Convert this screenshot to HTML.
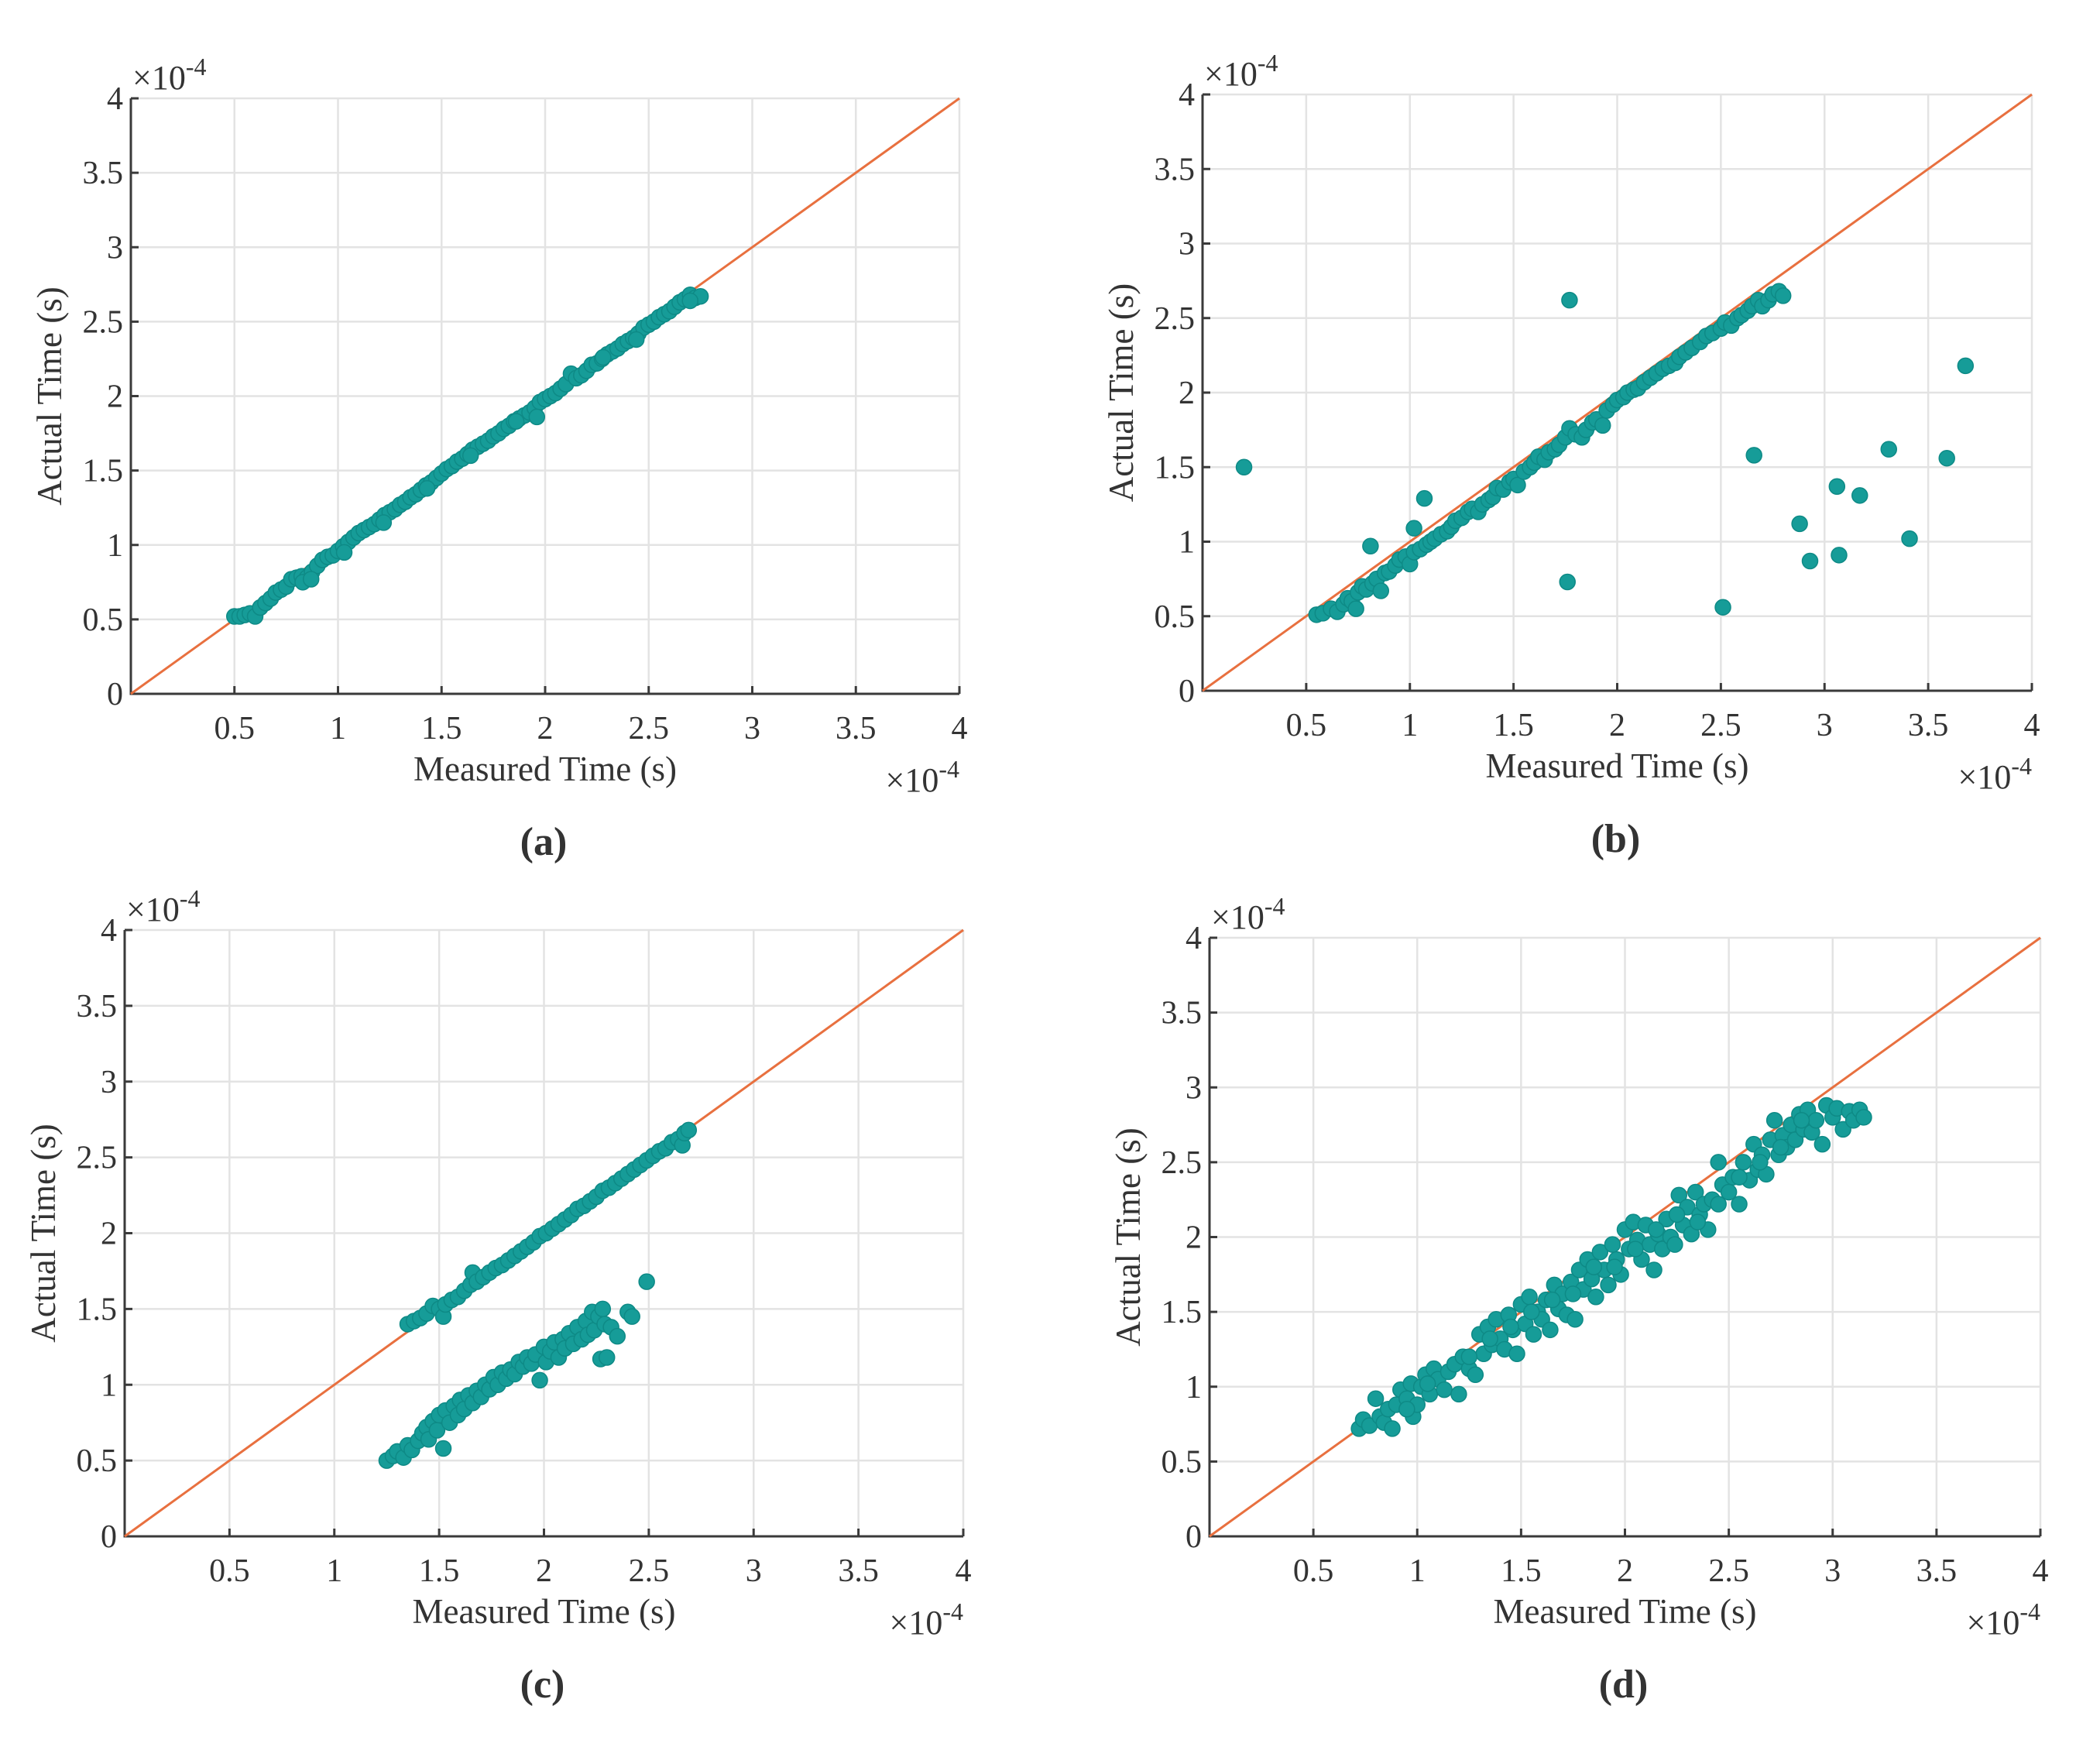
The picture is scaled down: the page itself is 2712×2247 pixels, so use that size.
<!DOCTYPE html>
<html><head><meta charset="utf-8"><style>
html,body{margin:0;padding:0;background:#fff}
svg{display:block}
text{font-family:"Liberation Serif",serif;fill:#333}
</style></head>
<body>
<svg id="fig" width="2712" height="2247" viewBox="0 0 2712 2247" xmlns="http://www.w3.org/2000/svg"></svg>
<script>
// ---- data (units of 1e-4 s) ----
const tickVals = [0, 0.5, 1, 1.5, 2, 2.5, 3, 3.5, 4];
const tickLabels = ["0","0.5","1","1.5","2","2.5","3","3.5","4"];
const refLine = [0, 4];

const aX = [0.50,0.525,0.55,0.575,0.60,0.625,0.65,0.675,0.70,0.725,0.75,0.775,0.80,0.825,0.85,0.875,0.90,0.925,0.95,0.975,1.00,1.025,1.05,1.075,1.10,1.125,1.15,1.175,1.20,1.225,1.25,1.275,1.30,1.325,1.35,1.375,1.40,1.425,1.45,1.475,1.50,1.525,1.55,1.575,1.60,1.625,1.65,1.675,1.70,1.725,1.75,1.775,1.80,1.825,1.85,1.875,1.90,1.925,1.95,1.975,2.00,2.025,2.05,2.075,2.10,2.125,2.15,2.175,2.20,2.225,2.25,2.275,2.30,2.325,2.35,2.375,2.40,2.425,2.45,2.475,2.50,2.525,2.55,2.575,2.60,2.625,2.65,2.675,2.70,2.725,2.75,0.83,0.87,1.03,1.22,1.43,1.64,1.86,1.96,2.28,2.44,2.70];
const aY = [0.52,0.52,0.53,0.54,0.52,0.58,0.61,0.64,0.68,0.70,0.72,0.77,0.78,0.79,0.78,0.82,0.86,0.90,0.92,0.93,0.96,0.99,1.02,1.05,1.08,1.10,1.12,1.14,1.17,1.20,1.22,1.24,1.27,1.29,1.32,1.34,1.37,1.40,1.42,1.45,1.48,1.51,1.53,1.56,1.58,1.61,1.64,1.66,1.68,1.70,1.73,1.75,1.78,1.80,1.83,1.85,1.87,1.89,1.92,1.96,1.98,2.00,2.02,2.05,2.08,2.15,2.12,2.14,2.17,2.21,2.22,2.25,2.28,2.30,2.32,2.35,2.37,2.39,2.42,2.46,2.48,2.50,2.53,2.55,2.57,2.60,2.63,2.65,2.68,2.66,2.67,0.75,0.77,0.95,1.15,1.38,1.60,1.83,1.86,2.26,2.38,2.64];

const bX = [0.55,0.58,0.62,0.65,0.68,0.70,0.72,0.74,0.75,0.77,0.79,0.82,0.84,0.86,0.88,0.90,0.93,0.95,0.98,1.00,1.02,1.05,1.08,1.10,1.12,1.15,1.18,1.20,1.22,1.25,1.28,1.30,1.33,1.35,1.38,1.40,1.42,1.45,1.48,1.50,1.52,1.55,1.58,1.60,1.62,1.65,1.67,1.70,1.72,1.75,1.77,1.80,1.83,1.85,1.88,1.90,1.93,1.95,1.98,2.00,2.03,2.05,2.08,2.10,2.13,2.16,2.19,2.22,2.25,2.28,2.30,2.33,2.36,2.40,2.43,2.46,2.50,2.52,2.55,2.58,2.60,2.63,2.65,2.68,2.70,2.73,2.75,2.78,2.80,0.20,0.81,1.02,1.07,1.77,1.76,2.51,2.66,2.88,2.93,3.06,3.07,3.17,3.31,3.41,3.59,3.68];
const bY = [0.51,0.52,0.55,0.53,0.58,0.62,0.60,0.55,0.66,0.70,0.68,0.72,0.75,0.67,0.79,0.80,0.84,0.88,0.90,0.85,0.93,0.95,0.98,1.00,1.02,1.05,1.07,1.10,1.14,1.16,1.20,1.22,1.20,1.25,1.28,1.30,1.36,1.35,1.40,1.42,1.38,1.47,1.50,1.53,1.57,1.55,1.60,1.62,1.65,1.70,1.76,1.72,1.70,1.75,1.80,1.82,1.78,1.88,1.92,1.95,1.97,2.00,2.02,2.03,2.07,2.10,2.13,2.16,2.18,2.20,2.24,2.27,2.30,2.34,2.38,2.40,2.43,2.47,2.45,2.50,2.52,2.55,2.58,2.62,2.58,2.62,2.66,2.68,2.65,1.50,0.97,1.09,1.29,2.62,0.73,0.56,1.58,1.12,0.87,1.37,0.91,1.31,1.62,1.02,1.56,2.18];

const cX = [1.35,1.38,1.41,1.44,1.47,1.50,1.52,1.53,1.56,1.59,1.62,1.65,1.66,1.68,1.71,1.74,1.77,1.80,1.83,1.86,1.89,1.92,1.95,1.98,2.01,2.04,2.07,2.10,2.13,2.16,2.19,2.22,2.25,2.28,2.31,2.34,2.37,2.40,2.43,2.46,2.49,2.52,2.55,2.58,2.61,2.64,2.66,2.67,2.69,
1.25,1.28,1.30,1.33,1.35,1.37,1.40,1.42,1.44,1.45,1.47,1.49,1.50,1.52,1.53,1.55,1.57,1.59,1.60,1.62,1.64,1.66,1.68,1.70,1.72,1.74,1.76,1.78,1.80,1.82,1.84,1.86,1.88,1.90,1.92,1.94,1.96,1.98,2.00,2.01,2.03,2.05,2.07,2.09,2.10,2.12,2.14,2.16,2.18,2.20,2.21,2.23,2.24,2.26,2.28,2.29,2.27,2.30,2.32,2.35,2.40,2.42,2.49];
const cY = [1.40,1.42,1.44,1.47,1.52,1.50,1.45,1.53,1.56,1.58,1.62,1.66,1.74,1.68,1.71,1.74,1.77,1.79,1.82,1.85,1.88,1.91,1.94,1.98,2.00,2.03,2.06,2.09,2.12,2.16,2.18,2.21,2.24,2.28,2.30,2.33,2.36,2.39,2.42,2.45,2.48,2.51,2.54,2.56,2.60,2.62,2.58,2.66,2.68,
0.50,0.53,0.56,0.52,0.60,0.57,0.63,0.68,0.72,0.64,0.76,0.70,0.80,0.58,0.83,0.75,0.86,0.80,0.90,0.84,0.93,0.88,0.96,0.92,1.00,0.97,1.05,1.00,1.08,1.04,1.10,1.07,1.15,1.12,1.18,1.14,1.20,1.03,1.25,1.15,1.22,1.28,1.18,1.30,1.24,1.34,1.27,1.38,1.30,1.42,1.33,1.48,1.36,1.45,1.50,1.40,1.17,1.18,1.38,1.32,1.48,1.45,1.68];

const dX = [0.72,0.74,0.77,0.80,0.82,0.84,0.86,0.88,0.90,0.92,0.95,0.97,0.98,1.00,1.02,1.04,1.06,1.08,1.10,1.13,1.15,1.18,1.20,1.22,1.25,1.28,1.30,1.32,1.34,1.36,1.38,1.40,1.42,1.44,1.46,1.48,1.50,1.52,1.54,1.56,1.58,1.60,1.62,1.64,1.66,1.68,1.70,1.72,1.74,1.76,1.78,1.80,1.82,1.84,1.86,1.88,1.90,1.92,1.94,1.96,1.98,2.00,2.02,2.04,2.06,2.08,2.10,2.12,2.14,2.16,2.18,2.20,2.22,2.24,2.26,2.28,2.30,2.32,2.34,2.36,2.38,2.40,2.42,2.45,2.47,2.50,2.52,2.55,2.57,2.60,2.62,2.64,2.66,2.68,2.70,2.72,2.74,2.76,2.78,2.80,2.82,2.84,2.86,2.88,2.90,2.92,2.95,2.97,3.00,3.02,3.05,3.08,3.10,3.13,3.15,1.55,1.65,1.75,1.85,1.95,2.05,2.15,2.25,2.35,2.45,2.55,2.65,2.75,2.85,1.35,1.45,1.25,1.05,0.95];
const dY = [0.72,0.78,0.74,0.92,0.80,0.76,0.85,0.72,0.88,0.98,0.92,1.02,0.80,0.88,1.00,1.08,0.95,1.12,1.05,0.98,1.10,1.15,0.95,1.20,1.12,1.08,1.35,1.22,1.40,1.28,1.45,1.32,1.25,1.48,1.38,1.22,1.55,1.42,1.60,1.35,1.50,1.45,1.58,1.38,1.68,1.52,1.62,1.48,1.70,1.45,1.78,1.65,1.85,1.72,1.60,1.90,1.78,1.68,1.95,1.85,1.75,2.05,1.92,2.10,1.98,1.85,2.08,1.95,1.78,2.02,1.92,2.12,2.00,1.95,2.28,2.08,2.20,2.02,2.30,2.15,2.22,2.05,2.25,2.50,2.35,2.30,2.40,2.22,2.50,2.38,2.62,2.45,2.55,2.42,2.65,2.78,2.55,2.68,2.60,2.75,2.65,2.82,2.72,2.85,2.70,2.78,2.62,2.88,2.80,2.86,2.72,2.84,2.78,2.85,2.80,1.50,1.58,1.62,1.80,1.80,1.92,2.05,2.15,2.10,2.22,2.40,2.50,2.60,2.78,1.32,1.40,1.20,1.02,0.85];

// ---- layout ----
const panels = [
  {id:'a', L:169, R:1239, T:127, B:896, xs:aX, ys:aY},
  {id:'b', L:1553, R:2624, T:122, B:892, xs:bX, ys:bY},
  {id:'c', L:161, R:1244, T:1201, B:1984, xs:cX, ys:cY},
  {id:'d', L:1562, R:2635, T:1211, B:1984, xs:dX, ys:dY}
];
const NS='http://www.w3.org/2000/svg';
const svg=document.getElementById('fig');
function mk(tag, attrs, parent){const e=document.createElementNS(NS,tag);for(const k in attrs)e.setAttribute(k,attrs[k]);(parent||svg).appendChild(e);return e;}

panels.forEach(p=>{
  const g=mk('g',{});
  
  
  const sx=v=>p.L+(v/4)*(p.R-p.L);
  const sy=v=>p.B-(v/4)*(p.B-p.T);
  tickVals.forEach((v,i)=>{
    if(i===0) return;
    const gx=mk('line',{x1:sx(v),x2:sx(v),y1:p.T,y2:p.B,stroke:'#e3e3e3','stroke-width':2.5},g);
    
    
    const gy=mk('line',{x1:p.L,x2:p.R,y1:sy(v),y2:sy(v),stroke:'#e3e3e3','stroke-width':2.5},g);
    
    
  });
  const ax=mk('path',{d:`M${p.L},${p.T}V${p.B}H${p.R}`,fill:'none',stroke:'#3a3a3a','stroke-width':3},g);
  
  
  tickVals.forEach((v,i)=>{
    mk('line',{x1:sx(v),x2:sx(v),y1:p.B,y2:p.B-10,stroke:'#3a3a3a','stroke-width':3},g);
    mk('line',{x1:p.L,x2:p.L+10,y1:sy(v),y2:sy(v),stroke:'#3a3a3a','stroke-width':3},g);
    if(i>0){
      const tx=mk('text',{x:sx(v),y:p.B+58,'font-size':42,'text-anchor':'middle'},g);
      tx.textContent=tickLabels[i];
      
      
    }
    const ty=mk('text',{x:p.L-10,y:sy(v)+14,'font-size':42,'text-anchor':'end'},g);
    ty.textContent=tickLabels[i];
    
    
  });
  const rl=mk('line',{x1:sx(refLine[0]),y1:sy(refLine[0]),x2:sx(refLine[1]),y2:sy(refLine[1]),stroke:'#e8703f','stroke-width':3},g);
  
  
  p.xs.forEach((x,i)=>{
    const c=mk('circle',{cx:sx(x),cy:sy(p.ys[i]),r:10,fill:'#169c98',stroke:'#0e8a86','stroke-width':1.5},g);
    
    
  });
  const xt=mk('text',{x:(p.L+p.R)/2,y:p.B+112,'font-size':45,'text-anchor':'middle'},g);
  xt.textContent='Measured Time (s)';
  
  
  const cy=(p.T+p.B)/2, cx=p.L-90;
  const yt=mk('text',{x:cx,y:cy,'font-size':45,'text-anchor':'middle',transform:`rotate(-90 ${cx} ${cy})`},g);
  yt.textContent='Actual Time (s)';
  
  
  const ye=mk('text',{x:p.L+2,y:p.T-12,'font-size':44},g);
  ye.innerHTML='×10<tspan dy="-18" font-size="32">-4</tspan>';
  
  
  const xe=mk('text',{x:p.R,y:p.B+126,'font-size':44,'text-anchor':'end'},g);
  xe.innerHTML='×10<tspan dy="-18" font-size="32">-4</tspan>';
  
  
  const sl=mk('text',{x:(p.L+p.R)/2-2,y:p.B+208,'font-size':52,'font-weight':'bold','text-anchor':'middle',fill:'#111'},g);
  sl.innerHTML='(<tspan>'+p.id+'</tspan>)';
  
  
});
</script>
</body></html>
